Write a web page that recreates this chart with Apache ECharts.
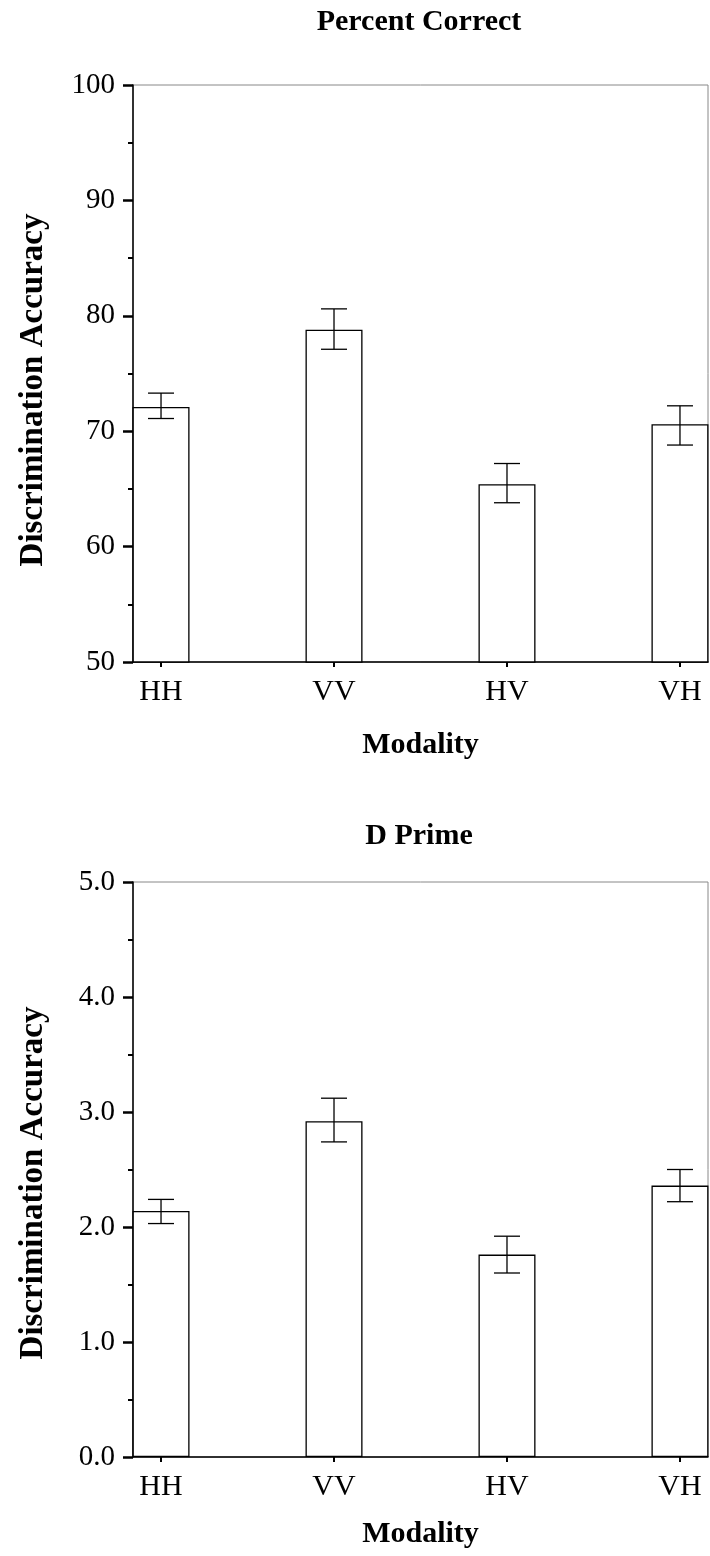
<!DOCTYPE html>
<html>
<head>
<meta charset="utf-8">
<script src="https://cdn.jsdelivr.net/npm/echarts@6.0.0/dist/echarts.min.js"></script>
<style>
  html, body { margin: 0; padding: 0; background: #fff; }
  #main { width: 710px; height: 1556px; }
</style>
</head>
<body>
<div id="main"></div>
<script>
  // data
  var categories = ['HH', 'VV', 'HV', 'VH'];
  var catIndex = [0, 1, 2, 3];

  var pctMean = [72.1, 78.8, 65.4, 70.6];
  var pctLow = [71.1, 77.1, 63.8, 68.8];
  var pctHigh = [73.3, 80.6, 67.2, 72.2];

  var dMean = [2.14, 2.92, 1.76, 2.36];
  var dLow = [2.03, 2.74, 1.60, 2.22];
  var dHigh = [2.24, 3.12, 1.92, 2.50];

  var serif = "'Liberation Serif', 'Times New Roman', serif";

  var chart = echarts.init(document.getElementById('main'));

  function errorBar (params, api) {
    var x = api.value(0);
    var lo = api.coord([x, api.value(1)]);
    var hi = api.coord([x, api.value(2)]);
    var half = 13;
    var st = { stroke: '#000', lineWidth: 1.3 };
    return {
      type: 'group',
      children: [
        { type: 'line', shape: { x1: lo[0], y1: lo[1], x2: hi[0], y2: hi[1] }, style: st },
        { type: 'line', shape: { x1: hi[0] - half, y1: hi[1], x2: hi[0] + half, y2: hi[1] }, style: st },
        { type: 'line', shape: { x1: lo[0] - half, y1: lo[1], x2: lo[0] + half, y2: lo[1] }, style: st }
      ]
    };
  }

  function xAxisFor (idx, gap) {
    return {
      type: 'value',
      gridIndex: idx,
      min: -0.162,
      max: 3.162,
      name: 'Modality',
      nameLocation: 'middle',
      nameGap: gap,
      nameTextStyle: { fontFamily: serif, fontWeight: 'bold', fontSize: 30, color: '#000' },
      splitLine: { show: false },
      axisLine: { onZero: false, lineStyle: { color: '#000', width: 1.5 } },
      axisTick: { customValues: catIndex, length: 5, lineStyle: { color: '#000', width: 2 } },
      axisLabel: {
        customValues: catIndex,
        margin: 15,
        fontFamily: serif,
        fontSize: 30,
        color: '#000',
        formatter: function (v) { return categories[Math.round(v)]; }
      }
    };
  }

  function yAxisFor (idx, min, max, interval, digits) {
    return {
      type: 'value',
      gridIndex: idx,
      min: min,
      max: max,
      interval: interval,
      splitLine: { show: false },
      axisLine: { onZero: false, lineStyle: { color: '#000', width: 1.5 } },
      axisTick: { length: 10, lineStyle: { color: '#000', width: 2.5 } },
      minorTick: { show: true, splitNumber: 2, length: 5, lineStyle: { color: '#000', width: 2 } },
      axisLabel: {
        margin: 18,
        fontFamily: serif,
        fontSize: 29,
        color: '#000',
        formatter: function (v) { return v.toFixed(digits); }
      }
    };
  }

  function pairs (vals) {
    return vals.map(function (v, i) { return [catIndex[i], v]; });
  }
  function errs (lo, hi) {
    return lo.map(function (v, i) { return [catIndex[i], v, hi[i]]; });
  }

  var titleFont = 'bold 30px ' + serif;
  var yTitleFont = 'bold 33px ' + serif;

  var option = {
    backgroundColor: '#fff',
    animation: false,
    grid: [
      { left: 133, top: 85, width: 575, height: 577, show: true, borderColor: '#888', borderWidth: 1 },
      { left: 133, top: 882, width: 575, height: 575, show: true, borderColor: '#888', borderWidth: 1 }
    ],
    xAxis: [xAxisFor(0, 68), xAxisFor(1, 62)],
    yAxis: [yAxisFor(0, 50, 100, 10, 0), yAxisFor(1, 0, 5, 1, 1)],
    graphic: [
      { type: 'text', style: { text: 'Percent Correct', x: 419, y: 22, align: 'center', verticalAlign: 'middle', font: titleFont, fill: '#000' } },
      { type: 'text', style: { text: 'D Prime', x: 419, y: 836, align: 'center', verticalAlign: 'middle', font: titleFont, fill: '#000' } },
      { type: 'text', x: 33, y: 390, rotation: Math.PI / 2, style: { text: 'Discrimination Accuracy', x: 0, y: 0, align: 'center', verticalAlign: 'middle', font: yTitleFont, fill: '#000' } },
      { type: 'text', x: 33, y: 1183, rotation: Math.PI / 2, style: { text: 'Discrimination Accuracy', x: 0, y: 0, align: 'center', verticalAlign: 'middle', font: yTitleFont, fill: '#000' } }
    ],
    series: [
      {
        type: 'bar', xAxisIndex: 0, yAxisIndex: 0, barWidth: 57,
        itemStyle: { color: '#fff', borderColor: '#000', borderWidth: 1.3 },
        data: pairs(pctMean)
      },
      {
        type: 'custom', xAxisIndex: 0, yAxisIndex: 0, renderItem: errorBar, z: 5,
        data: errs(pctLow, pctHigh)
      },
      {
        type: 'bar', xAxisIndex: 1, yAxisIndex: 1, barWidth: 57,
        itemStyle: { color: '#fff', borderColor: '#000', borderWidth: 1.3 },
        data: pairs(dMean)
      },
      {
        type: 'custom', xAxisIndex: 1, yAxisIndex: 1, renderItem: errorBar, z: 5,
        data: errs(dLow, dHigh)
      }
    ]
  };

  chart.setOption(option);
</script>
</body>
</html>
